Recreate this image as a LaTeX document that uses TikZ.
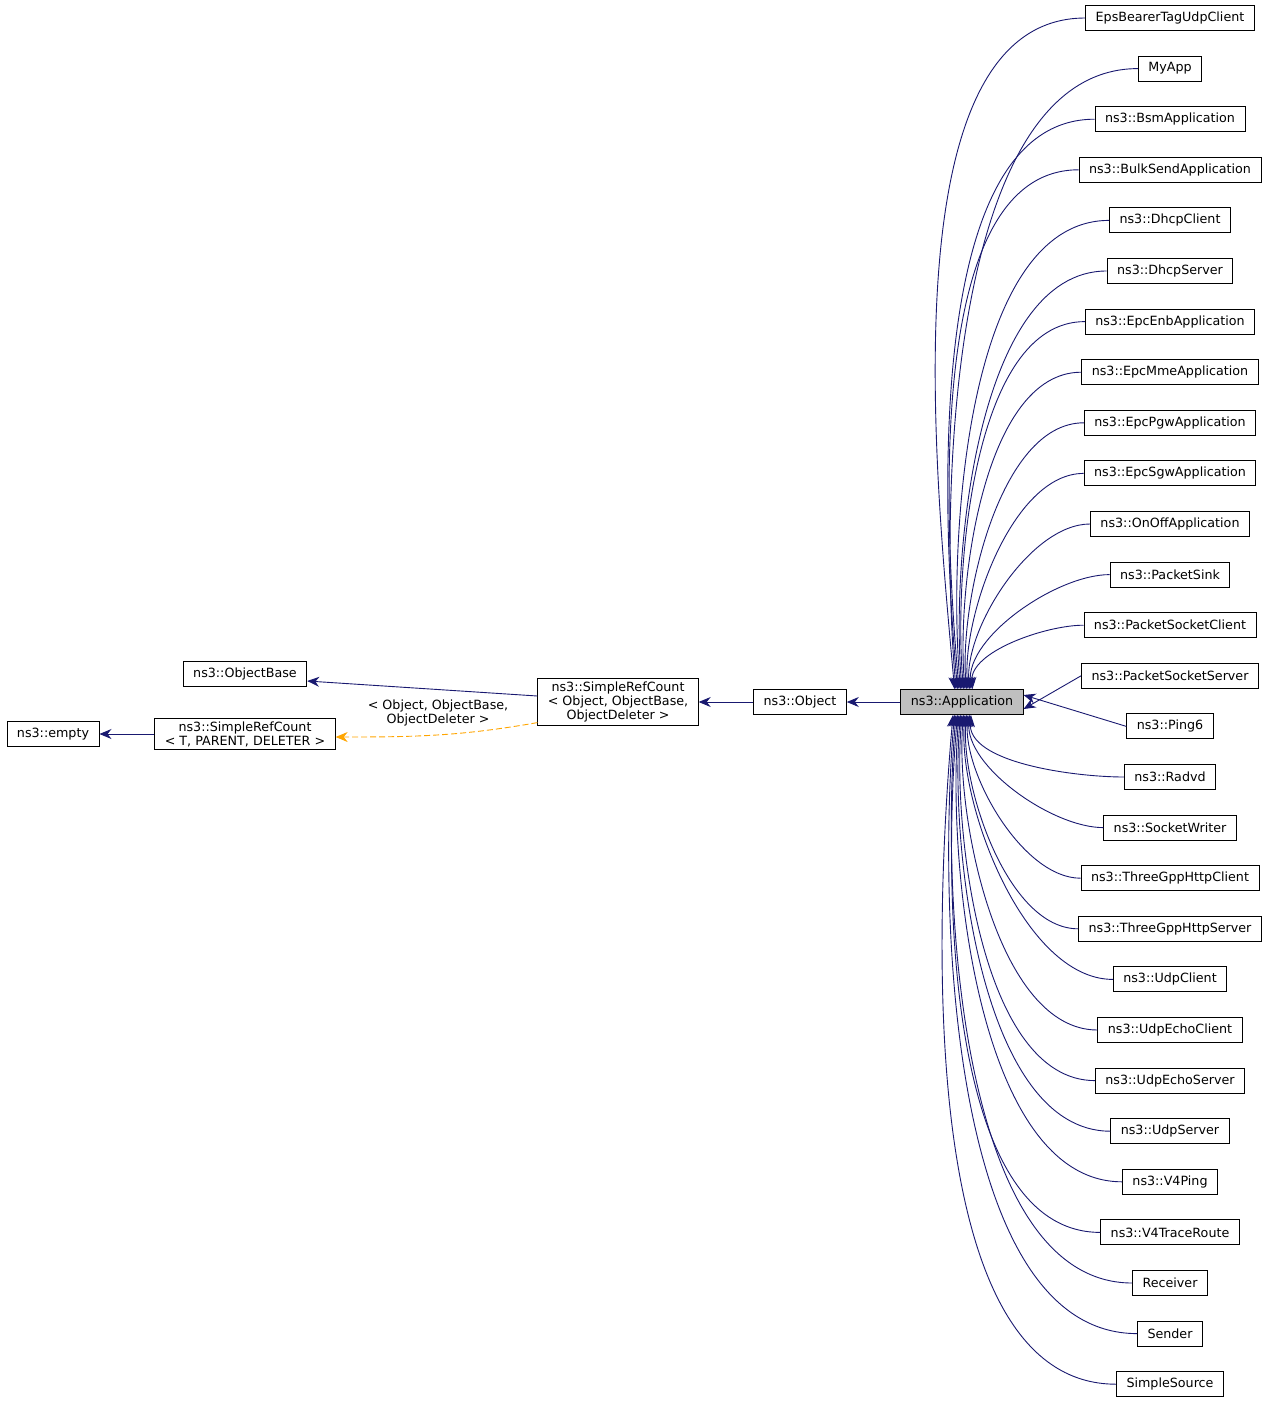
\documentclass[tikz,border=0pt]{standalone}
\usepackage{fontspec}
\setmainfont{DejaVu Sans}
\usetikzlibrary{arrows.meta}
\definecolor{edgeblue}{HTML}{191970}
\definecolor{tmplorange}{HTML}{FFA500}
\tikzset{
  cls/.style={draw, line width=0.9pt, font=\fontsize{12.7}{14}\selectfont, inner xsep=10pt, inner ysep=3pt, minimum height=25pt, align=center},
  edge/.style={edgeblue, line width=0.9pt, -{Stealth[length=12pt,width=10pt]}},
  tmpl/.style={tmplorange, line width=0.9pt, dash pattern=on 6pt off 3pt, -{Stealth[length=12pt,width=10pt]}}
}
\begin{document}
\begin{tikzpicture}[x=1pt,y=-1pt]
\useasboundingbox (0,0) rectangle (1269,1405);

\node[cls, fill=black!25] (app) at (962,702) {ns3::Application};
\node[cls] (obj) at (800,702) {ns3::Object};
\node[cls] (srco) at (618,702) {ns3::SimpleRefCount\\< Object, ObjectBase,\\ ObjectDeleter >};
\node[cls] (objbase) at (245,674) {ns3::ObjectBase};
\node[cls] (srct) at (245,734) {ns3::SimpleRefCount\\< T, PARENT, DELETER >};
\node[cls] (empty) at (53,734) {ns3::empty};

\draw[edge] (app) -- (obj);
\draw[edge] (srco.west |- 0,696) -- (objbase.east |- 0,681);
\draw[edge] (obj) -- (srco);
\draw[edge] (srct) -- (empty);
\draw[tmpl] (srco.south west) ++(0,-3) to[out=190,in=0] (srct.east |- 0,737);
\node[font=\fontsize{12.7}{14}\selectfont, align=center] (tlabel) at (438,713) {< Object, ObjectBase,\\ ObjectDeleter >};

% derived classes
\foreach \name [count=\i] in {EpsBearerTagUdpClient, MyApp, ns3::BsmApplication,
  ns3::BulkSendApplication, ns3::DhcpClient, ns3::DhcpServer, ns3::EpcEnbApplication,
  ns3::EpcMmeApplication, ns3::EpcPgwApplication, ns3::EpcSgwApplication,
  ns3::OnOffApplication, ns3::PacketSink, ns3::PacketSocketClient,
  ns3::PacketSocketServer, ns3::Ping6, ns3::Radvd, ns3::SocketWriter,
  ns3::ThreeGppHttpClient, ns3::ThreeGppHttpServer, ns3::UdpClient,
  ns3::UdpEchoClient, ns3::UdpEchoServer, ns3::UdpServer, ns3::V4Ping,
  ns3::V4TraceRoute, Receiver, Sender, SimpleSource} {
  \node[cls] (c\i) at (1170,{18+(\i-1)*50.6}) {\name};
  \ifnum\i<14
    \draw[edge] (c\i.west) to[out=180,in=95,looseness=0.75] ([xshift={1.5*(\i-6)}]app.north);
  \else\ifnum\i<16
    \draw[edge] (c\i.west) -- ([yshift={(\i-14.5)*14}]app.east);
  \else
    \draw[edge] (c\i.west) to[out=180,in=-95,looseness=0.75] ([xshift={1.5*(22-\i)}]app.south);
  \fi\fi
}
\end{tikzpicture}
\end{document}
